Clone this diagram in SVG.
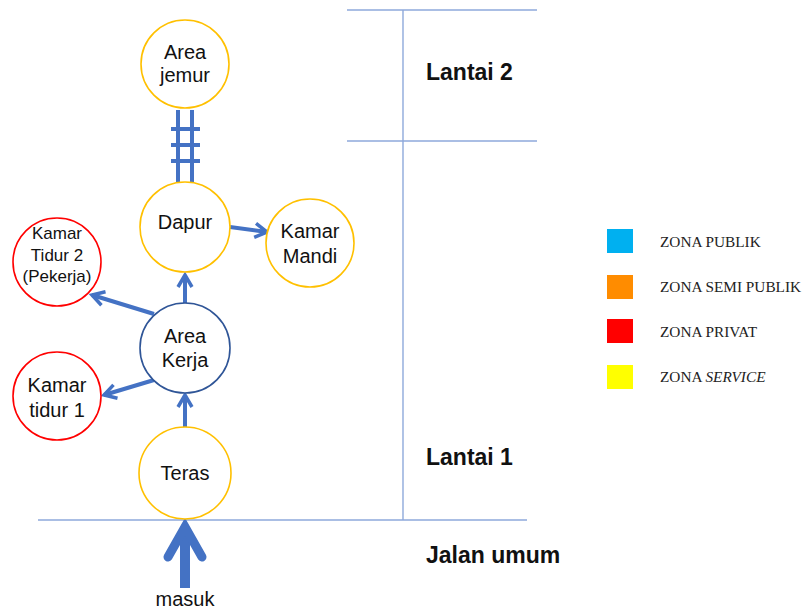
<svg xmlns="http://www.w3.org/2000/svg" width="804" height="609" viewBox="0 0 804 609">
<style>
.node{fill:#fff;stroke-width:1.6}
.svc{stroke:#FFC000}
.prv{stroke:#FF0000}
.pub{stroke:#2F5597}
.t{font-family:"Liberation Sans",Arial,sans-serif;font-size:20px;fill:#111;text-anchor:middle}
.ts{font-size:17px}
.floor{font-family:"Liberation Sans",Arial,sans-serif;font-size:23px;font-weight:bold;fill:#111}
.leg{font-family:"Liberation Serif","Times New Roman",serif;font-size:15.3px;fill:#222}
.grid{stroke:#8EA9DB;stroke-width:1.4;fill:none}
.conn{stroke:#4472C4;stroke-width:4;fill:none}
</style>
<defs>
<marker id="ah" markerUnits="userSpaceOnUse" viewBox="-16 -10 20 20" refX="0" refY="0" markerWidth="20" markerHeight="20" orient="auto">
<path d="M-12,-7 L0,0 L-12,7" fill="none" stroke="#4472C4" stroke-width="3.5" stroke-linejoin="miter"/>
</marker>
</defs>
<g id="grid-lines">
<line class="grid" x1="347" y1="10" x2="537" y2="10"/>
<line class="grid" x1="347" y1="141" x2="537" y2="141"/>
<line class="grid" x1="403" y1="10" x2="403" y2="520"/>
<line class="grid" x1="38" y1="520" x2="527" y2="520"/>
</g>
<g id="floor-labels">
<text class="floor" x="426" y="80">Lantai 2</text>
<text class="floor" x="426" y="465">Lantai 1</text>
<text class="floor" x="426" y="563">Jalan umum</text>
</g>
<g id="connectors">
<line class="conn" x1="178" y1="110" x2="178" y2="182"/>
<line class="conn" x1="192" y1="110" x2="192" y2="182"/>
<line class="conn" x1="171" y1="129" x2="200" y2="129"/>
<line class="conn" x1="171" y1="145" x2="200" y2="145"/>
<line class="conn" x1="171" y1="161" x2="200" y2="161"/>
<line class="conn" x1="185" y1="427" x2="185" y2="395" marker-end="url(#ah)"/>
<line class="conn" x1="185" y1="303" x2="185" y2="275" marker-end="url(#ah)"/>
<line class="conn" x1="230" y1="227" x2="267" y2="232" marker-end="url(#ah)"/>
<line class="conn" x1="154" y1="314" x2="92" y2="295" marker-end="url(#ah)"/>
<line class="conn" x1="154" y1="380" x2="104" y2="395" marker-end="url(#ah)"/>
<line stroke="#4472C4" stroke-width="10" x1="185" y1="588" x2="185" y2="530"/>
<path d="M168,557 L185,527 L202,557" fill="none" stroke="#4472C4" stroke-width="9" stroke-linecap="round" stroke-linejoin="miter"/>
</g>
<g id="area-jemur">
<circle class="node svc" cx="185" cy="64" r="44"/>
<text class="t" x="185" y="59">Area</text>
<text class="t" x="185" y="82">jemur</text>
</g>
<g id="dapur">
<circle class="node svc" cx="185" cy="227" r="45"/>
<text class="t" x="185" y="229">Dapur</text>
</g>
<g id="kamar-mandi">
<circle class="node svc" cx="310" cy="243" r="44"/>
<text class="t" x="310" y="238">Kamar</text>
<text class="t" x="310" y="263">Mandi</text>
</g>
<g id="kamar-tidur-2">
<circle class="node prv" cx="57" cy="262" r="44"/>
<text class="t ts" x="57" y="239">Kamar</text>
<text class="t ts" x="57" y="261">Tidur 2</text>
<text class="t ts" x="57" y="282">(Pekerja)</text>
</g>
<g id="area-kerja">
<circle class="node pub" cx="185" cy="348" r="45"/>
<text class="t" x="185" y="343">Area</text>
<text class="t" x="185" y="367">Kerja</text>
</g>
<g id="kamar-tidur-1">
<circle class="node prv" cx="57" cy="396" r="44"/>
<text class="t" x="57" y="392">Kamar</text>
<text class="t" x="57" y="417">tidur 1</text>
</g>
<g id="teras">
<circle class="node svc" cx="185" cy="473" r="46"/>
<text class="t" x="185" y="480">Teras</text>
</g>
<g id="masuk">
<text class="t" x="185" y="606">masuk</text>
</g>
<g id="legend">
<rect x="607" y="229" width="26" height="24" fill="#00B0F0"/>
<rect x="607" y="275" width="26" height="24" fill="#FF8C00"/>
<rect x="607" y="319" width="26" height="24" fill="#FF0000"/>
<rect x="607" y="365" width="26" height="24" fill="#FFFF00"/>
<text class="leg" x="660" y="247">ZONA PUBLIK</text>
<text class="leg" x="660" y="292">ZONA SEMI PUBLIK</text>
<text class="leg" x="660" y="337">ZONA PRIVAT</text>
<text class="leg" x="660" y="382">ZONA <tspan font-style="italic">SERVICE</tspan></text>
</g>
</svg>
